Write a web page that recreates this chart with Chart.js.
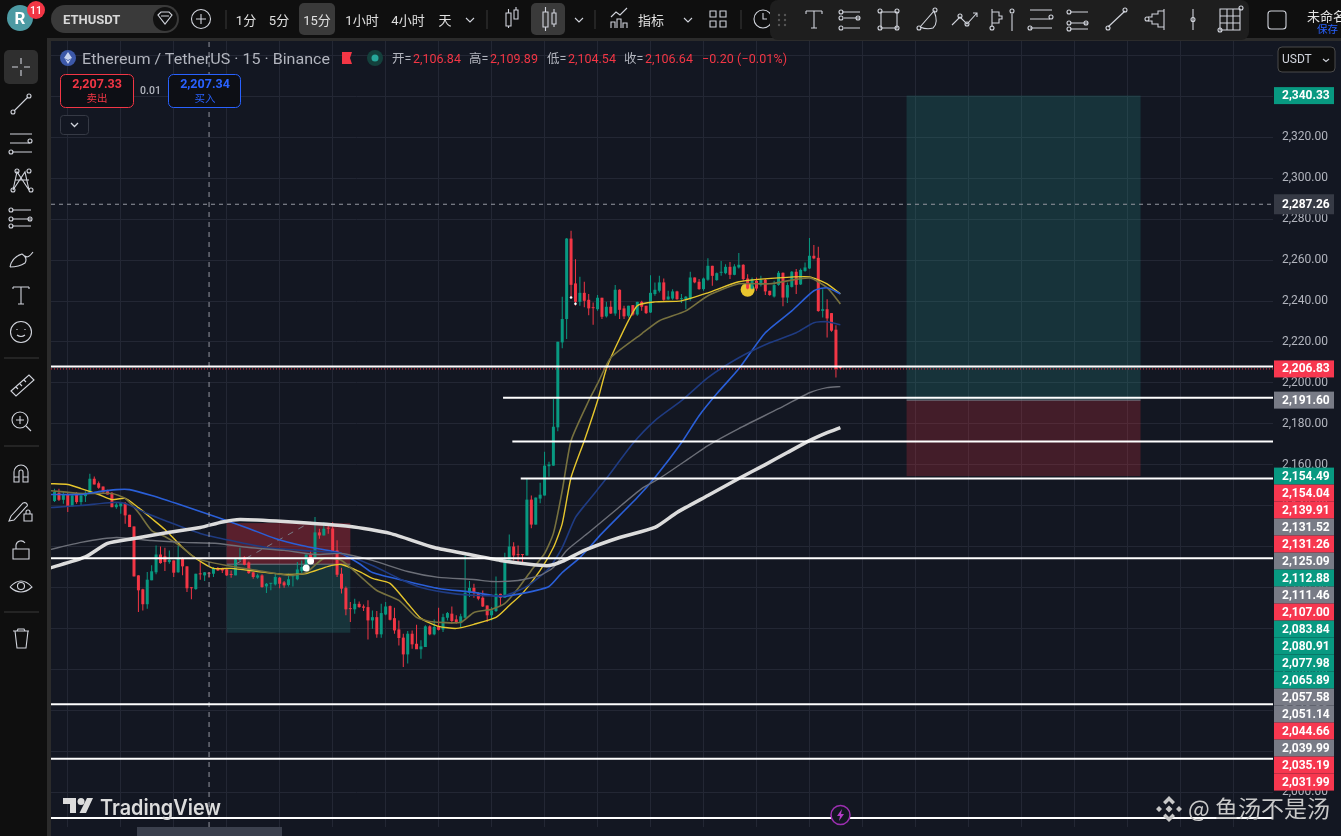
<!DOCTYPE html>
<html>
<head>
<meta charset="utf-8">
<title>ETHUSDT</title>
<script src="https://cdn.jsdelivr.net/npm/chart.js@4"></script>
<style>
  html, body { margin: 0; padding: 0; background: #131722; overflow: hidden; }
  #wrap { position: relative; width: 1341px; height: 836px; }
  #graph { position: absolute; left: 0; top: 0; }
  #chrome { position: absolute; left: 0; top: 0; pointer-events: none; font-family: Roboto, "Noto Sans CJK SC", sans-serif; }
  #chrome .ic { fill: none; stroke: #d1d4dc; stroke-width: 1.1; }
</style>
</head>
<body>
<div id="wrap">
<canvas id="graph" width="1341" height="836"></canvas>
<svg id="chrome" width="1341" height="836" viewBox="0 0 1341 836">
  <!-- top bar -->
  <rect x="0" y="0" width="1341" height="38" fill="#0f0f0f"/>
  <rect x="0" y="38" width="1341" height="3" fill="#2b2b2b"/>
  <rect x="0" y="38" width="47" height="798" fill="#0f0f0f"/>
  <rect x="47" y="38" width="4" height="798" fill="#2b2b2b"/>
  <circle cx="20" cy="18" r="13" fill="#4d9aa3"/>
  <text x="14.500" y="24" fill="#fff" font-size="17" font-weight="700">R</text>
  <circle cx="36" cy="10" r="9" fill="#f23645"/>
  <text x="36" y="14" fill="#fff" font-size="10.500" font-weight="500" text-anchor="middle">11</text>
  <rect x="51" y="5" width="128" height="28" rx="14" fill="#3a3a3a"/>
  <text x="63" y="24" fill="#d8d8d8" font-size="13" font-weight="700">ETHUSDT</text>
  <circle cx="165" cy="19" r="12" fill="#111"/>
  <path class="ic" d="M158 15 l3 -3 h8 l3 3 l-7 9 z M161 16 h8"/>
  <circle class="ic" cx="201" cy="19" r="9.500"/>
  <path class="ic" d="M201 14 v10 M196 19 h10"/>
  <path d="M226 10 v19 M487 10 v19 M595 10 v19 M741 10 v19" stroke="#3a3a3a"/>
  <rect x="299" y="3" width="36" height="32" rx="5" fill="#3a3a3a"/>
  <rect x="531" y="3" width="34" height="32" rx="5" fill="#3a3a3a"/>
  <g fill="#e0e0e0" font-size="13" text-anchor="middle">
    <text x="246" y="25">1分</text>
    <text x="279" y="25">5分</text>
    <text x="317" y="25">15分</text>
    <text x="362" y="25">1小时</text>
    <text x="408" y="25">4小时</text>
    <text x="445" y="25">天</text>
    <text x="651" y="25">指标</text>
  </g>
  <path class="ic" d="M466 18 l4 4 l4 -4 M575 18 l4 4 l4 -4 M684 18 l4 4 l4 -4"/>
  <path class="ic" d="M506 13 h5 v13 h-5 z M508.500 9 v4 M508.500 26 v2 M514 10 h4 v9 h-4 z M516 7 v3"/>
  <path class="ic" d="M543 12 h5 v15 h-5 z M545.500 7 v5 M545.500 27 v4 M552 13 h4 v11 h-4 z M554 9 v4 M554 24 v3"/>
  <path class="ic" d="M611 28 v-6 h4 v6 M617 28 v-9 h4 v9 M623 28 v-5 h4 v5 M611 17 l5 -5 l4 3 l7 -7"/>
  <path class="ic" d="M710 11 h6 v6 h-6 z M720 11 h6 v6 h-6 z M710 21 h6 v6 h-6 z M720 21 h6 v6 h-6 z"/>
  <circle class="ic" cx="763" cy="19" r="9"/>
  <path class="ic" d="M763 13 v6 h4"/>
  <!-- floating drawing bar -->
  <rect x="770" y="0" width="479" height="40" rx="8" fill="#1e1e1e"/>
  <g fill="#555"><circle cx="779" cy="15" r="1.200"/><circle cx="785" cy="15" r="1.200"/><circle cx="779" cy="20" r="1.200"/><circle cx="785" cy="20" r="1.200"/><circle cx="779" cy="25" r="1.200"/><circle cx="785" cy="25" r="1.200"/></g>
  <g class="ic">
    <path class="ic" d="M806 11 h16 M806 11 v3 M822 11 v3 M814 11 v17 M811 28 h6"/>
    <path class="ic" d="M842 12 h18 M844 18 h16 M844 28 h16"/><circle class="ic" cx="841" cy="12" r="2"/><circle class="ic" cx="841" cy="18" r="2"/><circle class="ic" cx="858" cy="18" r="2"/><circle class="ic" cx="841" cy="28" r="2"/>
    <path class="ic" d="M881 12 h16 v16 h-16 z"/><circle class="ic" cx="880" cy="11" r="2"/><circle class="ic" cx="897" cy="11" r="2"/><circle class="ic" cx="880" cy="28" r="2"/><circle class="ic" cx="897" cy="28" r="2"/>
    <path class="ic" d="M920 27 l14 -16 q5 12 -1 17 q-6 2 -13 -1"/><circle class="ic" cx="919" cy="28" r="2"/><circle class="ic" cx="935" cy="10" r="2"/>
    <path class="ic" d="M952 25 l8 -8 l7 7 l10 -11 M973 13 h4 v4"/><circle class="ic" cx="960" cy="16" r="2"/><circle class="ic" cx="967" cy="24" r="2"/>
    <path class="ic" d="M992 27 v-18 M992 12 h7 v4 h3 v3 h-3 v4 h-7 M1012 14 v17"/><circle class="ic" cx="992" cy="28" r="2"/><circle class="ic" cx="1012" cy="11" r="2"/>
    <path class="ic" d="M1030 10 h22 M1030 19 h20 M1030 28 h22"/><circle class="ic" cx="1051" cy="17" r="2"/><circle class="ic" cx="1030" cy="28" r="2"/>
    <path class="ic" d="M1070 12 h18 M1070 23 h18 M1070 29 h18"/><circle class="ic" cx="1069" cy="12" r="2"/><circle class="ic" cx="1069" cy="23" r="2"/><circle class="ic" cx="1086" cy="23" r="2"/><circle class="ic" cx="1069" cy="29" r="2"/>
    <path class="ic" d="M1108 27 l17 -16"/><circle class="ic" cx="1108" cy="28" r="2"/><circle class="ic" cx="1125" cy="10" r="2"/>
    <path class="ic" d="M1164 9 v21 M1164 11 h-6 v3 h-6 v3 h-4 M1164 27 h-6 v-3 h-6 v-3 h-4"/><circle class="ic" cx="1147" cy="19" r="2"/>
    <path class="ic" d="M1193 9 v21"/><circle class="ic" cx="1193" cy="19.500" r="2"/>
    <path class="ic" d="M1220 9 h20 v21 h-20 z M1227 9 v21 M1233 9 v21 M1220 16 h20 M1220 23 h20"/><circle class="ic" cx="1241" cy="8" r="2"/><circle class="ic" cx="1220" cy="30" r="2"/>
  </g>
  <rect class="ic" x="1268" y="11" width="18" height="18" rx="3"/>
  <text x="1307" y="21" fill="#e0e0e0" font-size="13">未命名</text>
  <text x="1317" y="33" fill="#2962ff" font-size="10.500">保存</text>

  <!-- left bar -->
  <rect x="4" y="50" width="34" height="34" rx="5" fill="#2f2f2f"/>
  <path class="ic" d="M21 58 v6 M21 70 v6 M12 67 h6 M24 67 h6"/>
  <path class="ic" d="M14 111 l14 -14"/><circle class="ic" cx="13" cy="112" r="2"/><circle class="ic" cx="29" cy="96" r="2"/>
  <path class="ic" d="M10 134 h22 M10 143 h20 M12 152 h20"/><circle class="ic" cx="30" cy="141" r="2"/><circle class="ic" cx="11" cy="152" r="2"/>
  <path class="ic" d="M13 190 l4 -18 l12 18 l-4 -18 l-12 18 M15 180 h14"/><circle class="ic" cx="13" cy="190" r="2"/><circle class="ic" cx="17" cy="171" r="2"/><circle class="ic" cx="29" cy="171" r="2"/><circle class="ic" cx="31" cy="190" r="2"/>
  <path class="ic" d="M12 210 h19 M12 219 h19 M12 226 h19"/><circle class="ic" cx="11" cy="210" r="2"/><circle class="ic" cx="11" cy="219" r="2"/><circle class="ic" cx="30" cy="219" r="2"/><circle class="ic" cx="11" cy="226" r="2"/>
  <path class="ic" d="M10 267 q2 -10 12 -13 q6 4 3 9 q-6 4 -15 4 M25 256 q3 3 8 -4"/>
  <path class="ic" d="M13 287 h16 M13 287 v2 M29 287 v2 M21 287 v17 M18 304 h6"/>
  <circle class="ic" cx="21" cy="332" r="10.500"/><path class="ic" d="M17 335 q4 3 8 0 M17 329 v1 M25 329 v1"/>
  <path d="M4 358 h35 M4 446 h35 M4 612 h35" stroke="#3a3a3a"/>
  <path class="ic" d="M11 391 l18 -16 l5 5 l-18 16 z M16 387 l2 2 M20 384 l2 2 M24 380 l2 2"/>
  <circle class="ic" cx="20" cy="420" r="8"/><path class="ic" d="M26 426 l5 5 M16 420 h8 M20 416 v8"/>
  <path class="ic" d="M14 482 v-10 a7 7 0 0 1 14 0 v10 h-5 v-10 a2 2 0 0 0 -4 0 v10 z M14 477 h5 M23 477 h5"/>
  <path class="ic" d="M11 516 l12 -13 q3 -1 4 1 q1 2 -1 3 l-12 13 l-5 1 z M24 514 h8 v7 h-8 z M26 514 v-2 a2 2 0 0 1 4 0 v2"/>
  <path class="ic" d="M13 549 h16 v10 h-16 z M16 549 v-4 a5 5 0 0 1 9 -2"/>
  <path class="ic" d="M10 587 q11 -12 22 0 q-11 10 -22 0"/><circle class="ic" cx="21" cy="586" r="3.500"/>
  <path class="ic" d="M13 631 h16 M17 631 l1 -2 h6 l1 2 M15 631 l2 17 h9 l2 -17"/>

  <!-- legend -->
  <circle cx="68" cy="58" r="8" fill="#3c58a8"/>
  <path d="M68 52 l-4 6 l4 2 l4 -2 z M68 61 l-3 -2 l3 5 l3 -5 z" fill="#c8d4f0"/>
  <text x="82" y="63.500" fill="#b2b5be" font-size="15" textLength="248" lengthAdjust="spacingAndGlyphs">Ethereum / TetherUS · 15 · Binance</text>
  <path d="M342 52 h10 l-2 6 l2 6 h-10 z" fill="#f23645"/>
  <circle cx="375" cy="58" r="8" fill="#14403c"/><circle cx="375" cy="58" r="3.500" fill="#26a69a"/>
  <g font-size="12.500">
    <text x="392" y="63" fill="#b2b5be">开=</text><text x="413" y="63" fill="#f23645">2,106.84</text>
    <text x="469" y="63" fill="#b2b5be">高=</text><text x="490" y="63" fill="#f23645">2,109.89</text>
    <text x="547" y="63" fill="#b2b5be">低=</text><text x="568" y="63" fill="#f23645">2,104.54</text>
    <text x="624" y="63" fill="#b2b5be">收=</text><text x="645" y="63" fill="#f23645">2,106.64</text>
    <text x="702" y="63" fill="#f23645" textLength="85">−0.20 (−0.01%)</text>
  </g>
  <rect x="60.500" y="74.500" width="73" height="33" rx="5" fill="#0d0f15" stroke="#f23645"/>
  <text x="97" y="88" fill="#f23645" font-size="12.500" font-weight="700" text-anchor="middle">2,207.33</text>
  <text x="97" y="102" fill="#f23645" font-size="10.500" text-anchor="middle">卖出</text>
  <text x="150.500" y="94" fill="#b2b5be" font-size="10.500" font-weight="500" text-anchor="middle">0.01</text>
  <rect x="168.500" y="74.500" width="72" height="33" rx="5" fill="#0d0f15" stroke="#2962ff"/>
  <text x="205" y="88" fill="#2962ff" font-size="12.500" font-weight="700" text-anchor="middle">2,207.34</text>
  <text x="205" y="102" fill="#2962ff" font-size="10.500" text-anchor="middle">买入</text>
  <rect x="60.500" y="115.500" width="28" height="19" rx="3" fill="#131722" stroke="#363a45"/>
  <path d="M71 123 l3.500 3.500 l3.500 -3.500" fill="none" stroke="#d1d4dc" stroke-width="1.300"/>

  <!-- unit button -->
  <rect x="1278" y="47" width="57" height="25" rx="4" fill="#0e0e0e" stroke="#4a4a4a"/>
  <text x="1282" y="63" fill="#d1d4dc" font-size="12">USDT</text>
  <path class="ic" d="M1323 59 l3 2.500 l3 -2.500"/>

  <!-- time axis strip -->
  <rect x="137" y="827" width="145" height="9" fill="#3b404d"/>

  <!-- watermarks -->
  <g fill="#dcdcdc">
    <path d="M63 798 h13 v15 h-6 v-9 h-7 z M87 798 h6 l-7 15 h-6.500 z"/>
    <circle cx="81" cy="801.500" r="3.500"/>
    <text x="100" y="815" font-family="Inter, Roboto" font-size="21" font-weight="600" textLength="121" lengthAdjust="spacingAndGlyphs">TradingView</text>
  </g>
  <circle cx="840.500" cy="815" r="9.500" fill="#131722" stroke="#9c2fb0" stroke-width="1.500"/>
  <path d="M842 809 l-5 7 h3 l-1 5 l5 -7 h-3 z" fill="#b43cc8"/>
  <g fill="#c8c8c8">
    <path d="M1169 796 l6 6 l-2.500 2.500 l-3.500 -3.500 l-3.500 3.500 l-2.500 -2.500 z M1169 822 l6 -6 l-2.500 -2.500 l-3.500 3.500 l-3.500 -3.500 l-2.500 2.500 z M1156 809 l3 -3 l3 3 l-3 3 z M1176 809 l3 -3 l3 3 l-3 3 z M1169 805.500 l3.500 3.500 l-3.500 3.500 l-3.500 -3.500 z"/>
    <text x="1188" y="817" font-size="23" font-family="'Noto Sans CJK SC', sans-serif">@ 鱼汤不是汤</text>
  </g>
</svg>
</div>

<script>
// price range of the pane and bar range (bar 12 sits on the first time grid line)
const priceMin = 1983.1;
const priceMax = 2367;
const barMin = 8.2;
const barMax = 285;
const firstBar = 9;

const yTickValues = [2000, 2020, 2040, 2060, 2080, 2100, 2120, 2140, 2160, 2180, 2200, 2220, 2240, 2260, 2280, 2300, 2320, 2340, 2360];
const xGridBars = [12, 24, 36, 48, 60, 72, 84, 96, 108, 120, 132, 144, 156, 168, 180, 192, 204, 216, 228, 240, 252, 264, 276];

// candles
const opens = [
  2142.3, 2146.3, 2142.9, 2145.5, 2139.7, 2145.5, 2141.8, 2144.7, 2146.3, 2153.2, 2151.0, 2149.4, 2147.1, 2146.2, 2139.3, 2139.7, 2141.3, 2135.6, 2129.9, 2106.0, 2099.2, 2091.9, 2103.6, 2107.5, 2116.2, 2115.3, 2112.5, 2113.3, 2107.5, 2114.0, 2110.4, 2100.0, 2099.3, 2106.8, 2106.0, 2107.3, 2106.8, 2109.3, 2109.3, 2108.9, 2106.5, 2106.0, 2113.6, 2114.9, 2112.3, 2107.5, 2104.9, 2106.0, 2100.6, 2101.9, 2101.6, 2104.9, 2102.6, 2101.3, 2105.5, 2104.1, 2108.1, 2109.3, 2116.2, 2114.9, 2127.0, 2125.5, 2129.1, 2128.9, 2118.2, 2106.8, 2099.8,
  2090.0, 2089.4, 2092.1, 2090.8, 2090.5, 2084.0, 2085.6, 2077.2, 2086.9, 2091.0, 2085.1, 2079.6, 2075.6, 2067.4, 2077.5, 2072.6, 2069.9, 2071.0, 2081.1, 2077.2, 2081.1, 2079.6, 2085.3, 2087.3, 2084.5, 2082.7, 2085.3, 2097.5, 2099.9, 2097.3, 2095.1, 2091.3, 2086.5, 2088.6, 2097.0, 2095.1, 2113.6, 2120.1, 2116.2, 2116.2,
  2115.7, 2143.0, 2130.8, 2143.5, 2145.0, 2159.3, 2159.6, 2178.3, 2219.8, 2231.2, 2270.5, 2248.6, 2239.6, 2244.0, 2240.6, 2236.9, 2236.0, 2241.6, 2232.5, 2237.2, 2233.9, 2245.5, 2236.4, 2232.8, 2238.0, 2233.4, 2239.6, 2237.7, 2234.4, 2243.4, 2245.0, 2249.1, 2240.8, 2241.2, 2244.7, 2240.9, 2240.9, 2240.9, 2251.5, 2249.4, 2245.8, 2250.4, 2257.2, 2250.2, 2253.8, 2253.6, 2256.7, 2252.8, 2256.4, 2257.7, 2251.0, 2246.1, 2249.9, 2247.8, 2250.4, 2245.0, 2242.2, 2247.9, 2253.8, 2241.7, 2246.9, 2254.3, 2248.1, 2254.7, 2255.9, 2262.1, 2261.1, 2235.2, 2236.0, 2234.1, 2226.0, 2207.6,
];
const highs = [
  2148.3, 2148.3, 2147.1, 2146.7, 2145.8, 2146.7, 2146.3, 2147.1, 2155.6, 2154.3, 2151.9, 2149.4, 2147.8, 2146.7, 2141.8, 2141.8, 2141.8, 2135.6, 2129.9, 2106.0, 2099.5, 2107.6, 2110.9, 2120.6, 2120.1, 2119.5, 2118.2, 2113.3, 2120.6, 2114.9, 2110.4, 2100.3, 2106.8, 2112.5, 2107.6, 2107.6, 2110.1, 2110.1, 2109.7, 2109.3, 2108.4, 2114.1, 2119.5, 2115.3, 2112.8, 2107.6, 2106.8, 2106.5, 2102.3, 2102.3, 2106.8, 2105.2, 2103.2, 2106.8, 2106.0, 2112.5, 2113.3, 2116.2, 2118.2, 2134.5, 2128.8, 2132.0, 2130.4, 2132.0, 2123.1, 2109.7, 2100.6,
  2093.0, 2094.6, 2093.3, 2091.8, 2093.8, 2088.9, 2088.6, 2092.1, 2093.0, 2091.3, 2090.2, 2084.0, 2077.5, 2078.8, 2079.1, 2081.9, 2074.3, 2081.6, 2081.6, 2084.5, 2090.2, 2087.3, 2088.1, 2090.8, 2086.5, 2087.3, 2115.7, 2103.2, 2101.9, 2097.8, 2098.6, 2091.3, 2090.5, 2105.5, 2097.0, 2117.0, 2126.0, 2122.2, 2120.6, 2116.5,
  2153.4, 2145.0, 2144.0, 2151.3, 2166.4, 2161.5, 2192.1, 2220.1, 2242.1, 2270.8, 2274.3, 2260.4, 2251.8, 2249.4, 2243.4, 2239.3, 2242.9, 2241.6, 2239.6, 2240.1, 2247.8, 2245.8, 2237.7, 2237.7, 2238.0, 2239.6, 2240.1, 2237.7, 2252.6, 2249.1, 2252.3, 2251.0, 2245.0, 2245.8, 2245.0, 2243.4, 2242.5, 2254.3, 2251.5, 2250.7, 2251.5, 2260.9, 2257.2, 2253.9, 2259.6, 2258.0, 2259.1, 2258.0, 2263.4, 2258.0, 2253.1, 2251.5, 2251.5, 2252.3, 2250.7, 2245.0, 2249.9, 2254.7, 2253.9, 2249.1, 2254.7, 2255.6, 2255.9, 2258.8, 2270.8, 2267.4, 2266.5, 2245.8, 2240.9, 2234.1, 2228.2, 2207.9,
];
const lows = [
  2141.8, 2142.3, 2141.0, 2136.9, 2139.7, 2141.0, 2140.1, 2141.8, 2145.8, 2150.4, 2148.3, 2145.8, 2145.5, 2139.3, 2138.5, 2136.1, 2131.2, 2129.6, 2105.5, 2088.1, 2088.9, 2089.7, 2103.6, 2106.5, 2111.7, 2108.1, 2111.7, 2105.2, 2107.3, 2106.0, 2097.9, 2094.3, 2099.0, 2103.9, 2103.2, 2104.9, 2105.2, 2108.1, 2107.1, 2105.7, 2104.9, 2106.0, 2113.0, 2110.9, 2106.8, 2104.4, 2104.4, 2100.0, 2097.4, 2098.7, 2101.1, 2099.7, 2100.0, 2100.6, 2100.6, 2103.6, 2107.1, 2108.4, 2113.3, 2114.9, 2123.9, 2125.5, 2126.3, 2117.4, 2105.2, 2097.1, 2086.5,
  2083.2, 2087.3, 2090.2, 2088.6, 2074.7, 2079.9, 2075.5, 2075.5, 2086.5, 2084.0, 2077.5, 2071.8, 2061.2, 2062.9, 2070.2, 2070.2, 2065.3, 2071.0, 2076.7, 2076.7, 2079.1, 2078.3, 2084.0, 2082.4, 2082.4, 2080.8, 2084.8, 2095.4, 2095.1, 2093.8, 2090.5, 2083.2, 2084.0, 2088.1, 2091.3, 2095.1, 2113.3, 2113.3, 2112.5, 2111.3,
  2115.7, 2129.0, 2130.8, 2141.2, 2145.0, 2154.2, 2159.6, 2176.4, 2216.9, 2221.4, 2241.7, 2237.7, 2237.7, 2236.9, 2233.1, 2228.4, 2235.2, 2231.2, 2232.0, 2233.6, 2232.8, 2231.2, 2231.2, 2232.0, 2232.8, 2232.8, 2235.2, 2233.6, 2234.1, 2242.6, 2244.2, 2240.1, 2240.6, 2240.6, 2240.6, 2239.0, 2236.0, 2240.1, 2248.7, 2245.5, 2245.0, 2249.9, 2247.4, 2249.9, 2252.3, 2253.1, 2250.7, 2252.6, 2255.9, 2249.9, 2245.8, 2245.8, 2245.0, 2247.1, 2242.9, 2242.6, 2241.7, 2247.4, 2237.4, 2239.0, 2246.6, 2243.4, 2247.8, 2254.3, 2255.6, 2260.4, 2234.7, 2232.0, 2222.2, 2225.0, 2202.7, 2206.8,
];
const closes = [
  2146.7, 2142.9, 2145.5, 2139.7, 2145.0, 2141.8, 2145.0, 2146.3, 2153.2, 2150.4, 2148.8, 2146.7, 2145.5, 2139.3, 2140.6, 2141.3, 2135.3, 2129.6, 2105.5, 2098.7, 2091.9, 2103.9, 2108.0, 2116.2, 2112.0, 2112.5, 2113.6, 2107.3, 2114.0, 2110.4, 2099.7, 2099.7, 2106.8, 2106.5, 2107.5, 2106.8, 2109.6, 2108.4, 2108.4, 2106.0, 2106.2, 2113.8, 2114.1, 2111.2, 2107.1, 2105.2, 2106.0, 2100.3, 2101.9, 2102.3, 2105.2, 2101.9, 2101.1, 2104.1, 2106.0, 2108.9, 2110.1, 2116.2, 2114.1, 2127.0, 2125.5, 2128.8, 2128.8, 2117.4, 2106.3, 2099.5, 2089.4,
  2089.5, 2092.1, 2090.5, 2090.2, 2084.0, 2085.6, 2077.2, 2087.6, 2090.8, 2084.3, 2079.1, 2075.4, 2067.4, 2077.5, 2072.3, 2069.9, 2071.3, 2081.1, 2077.2, 2080.8, 2079.4, 2085.6, 2087.6, 2083.7, 2082.7, 2086.0, 2097.5, 2099.9, 2097.3, 2094.6, 2090.8, 2086.5, 2088.9, 2097.0, 2095.1, 2113.6, 2120.1, 2115.7, 2115.9, 2115.9,
  2143.0, 2130.8, 2144.0, 2145.4, 2159.6, 2160.2, 2178.6, 2220.1, 2231.2, 2270.5, 2247.9, 2239.6, 2244.0, 2240.1, 2236.4, 2236.5, 2241.6, 2232.3, 2237.2, 2233.9, 2245.5, 2235.7, 2232.5, 2237.7, 2233.4, 2239.6, 2237.2, 2234.1, 2244.0, 2245.5, 2249.1, 2240.6, 2242.2, 2244.7, 2240.9, 2241.2, 2242.1, 2251.5, 2249.1, 2245.8, 2251.0, 2257.2, 2252.3, 2253.6, 2254.1, 2256.7, 2252.8, 2256.9, 2257.7, 2250.7, 2246.1, 2250.7, 2246.1, 2250.4, 2244.7, 2242.9, 2247.8, 2253.8, 2241.7, 2247.8, 2254.3, 2247.9, 2255.2, 2256.4, 2262.1, 2260.8, 2235.1, 2236.0, 2231.5, 2225.5, 2206.8, 2207.2,
];

// moving averages, sampled along each curve: bar numbers and values
const yellowBars = [8, 12, 15, 19, 22, 25, 28, 31, 34, 38, 41, 45, 49, 55, 61, 66, 71, 74, 78, 81, 85, 89, 92, 96, 100, 104, 109, 112, 115, 119, 122, 124, 126, 129, 132, 134, 137, 141, 145, 151, 157, 164, 173, 180, 184, 187];
const yellowValues = [2150.8, 2150.4, 2148.4, 2145.5, 2143.0, 2143.6, 2139.1, 2133.8, 2128.4, 2119.6, 2114.3, 2109.4, 2109.4, 2107.9, 2106.5, 2106.9, 2110.4, 2111.3, 2107.9, 2104.5, 2102.1, 2092.3, 2085.0, 2081.1, 2080.1, 2082.1, 2085.5, 2091.3, 2097.2, 2108.4, 2119.6, 2131.3, 2153.8, 2171.8, 2191.3, 2206.9, 2221.6, 2237.7, 2239.6, 2240.1, 2244.0, 2249.4, 2251.3, 2251.8, 2248.4, 2243.5];
const oliveBars = [8, 15, 22, 25, 28, 31, 34, 38, 41, 48, 55, 62, 66, 70, 74, 78, 82, 87, 91, 94, 101, 104, 108, 111, 114, 117, 120, 122, 124, 126, 130, 132, 135, 142, 146, 152, 157, 164, 171, 180, 184, 187];
const oliveValues = [2147.4, 2146.0, 2146.0, 2143.6, 2136.7, 2127.9, 2125.0, 2119.6, 2114.3, 2110.8, 2108.4, 2106.0, 2107.4, 2114.3, 2113.3, 2106.0, 2098.6, 2093.8, 2085.5, 2083.5, 2083.0, 2087.9, 2089.4, 2092.3, 2099.6, 2108.4, 2116.7, 2126.5, 2147.4, 2171.8, 2191.3, 2199.6, 2212.3, 2224.0, 2230.4, 2235.2, 2242.6, 2248.4, 2248.4, 2251.3, 2246.5, 2238.6];
const blueBars = [8, 15, 19, 23, 26, 31, 38, 46, 53, 59, 65, 72, 74, 78, 81, 89, 96, 104, 110, 115, 121, 124, 128, 133, 141, 145, 151, 155, 159, 164, 170, 176, 181, 184, 187];
const blueValues = [2145.5, 2145.5, 2146.9, 2147.9, 2147.9, 2145.0, 2140.1, 2134.3, 2128.9, 2124.0, 2120.6, 2117.7, 2116.7, 2111.8, 2107.4, 2103.0, 2099.6, 2097.7, 2095.7, 2097.2, 2100.6, 2107.4, 2114.7, 2126.5, 2144.0, 2153.8, 2170.8, 2184.0, 2194.7, 2206.9, 2224.5, 2235.2, 2245.0, 2246.5, 2243.5];
const navyBars = [8, 15, 22, 25, 30, 34, 42, 49, 57, 65, 74, 81, 88, 92, 99, 105, 111, 116, 121, 124, 127, 130, 134, 140, 145, 151, 157, 164, 171, 177, 181, 184, 187];
const navyValues = [2139.1, 2140.1, 2141.6, 2141.1, 2136.2, 2132.8, 2126.5, 2123.0, 2119.6, 2118.2, 2116.7, 2110.8, 2103.5, 2100.1, 2097.2, 2096.2, 2096.2, 2100.6, 2109.4, 2119.6, 2134.3, 2142.6, 2153.3, 2170.4, 2181.6, 2191.3, 2202.6, 2212.3, 2219.6, 2224.5, 2229.4, 2229.9, 2228.4];
const greyBars = [8, 15, 23, 31, 38, 46, 53, 61, 68, 74, 81, 89, 96, 104, 108, 114, 119, 122, 125, 130, 136, 142, 146, 153, 157, 164, 173, 180, 184, 187];
const greyValues = [2118.6, 2122.1, 2124.5, 2123.0, 2122.1, 2121.6, 2119.6, 2118.2, 2116.2, 2116.7, 2113.3, 2107.9, 2105.0, 2104.0, 2103.0, 2103.5, 2106.0, 2109.9, 2118.2, 2126.9, 2137.7, 2148.4, 2153.3, 2163.5, 2169.4, 2177.7, 2187.4, 2195.2, 2197.7, 2198.2];
const silverBars = [8, 16, 21, 27, 34, 42, 47, 51, 61, 76, 85, 95, 103, 110, 117, 121, 124, 129, 137, 145, 150, 157, 164, 170, 175, 180, 184, 187];
const silverValues = [2109.6, 2115.0, 2121.6, 2124.0, 2126.7, 2129.4, 2132.1, 2133.3, 2132.3, 2129.9, 2126.5, 2119.6, 2116.2, 2113.3, 2111.3, 2110.8, 2112.8, 2118.2, 2124.5, 2129.4, 2136.7, 2145.0, 2153.3, 2160.1, 2166.0, 2171.8, 2175.7, 2178.2];

// white horizontal levels: price and the bar they start from
const levelPrices = [2208, 2192.8, 2171.4, 2153.3, 2114.4, 2043.1, 2016.4, 1987.5];
const levelStarts = [barMin, 110.6, 112.7, 114.6, barMin, barMin, barMin, barMin];
const lastPrice = 2206.83;
const crossBar = 44;
const crossPrice = 2287.26;

// long / short position boxes: top, entry, bottom
const bigBoxBars = [202, 255];
const bigBoxPrices = [2340.33, 2191.6, 2154.49];
const smallBoxBars = [48, 76];
const smallBoxPrices = [2131.52, 2111.46, 2077.98];
const tradeLineBars = [50, 67];
const tradeLinePrices = [2111.46, 2132];

// marks on the candles
const handBars = [66, 67];
const handPrices = [2109.6, 2113];
const dotBars = [126, 127];
const dotPrices = [2241.7, 2238.7];
const alertBars = [166];
const alertPrices = [2245.5];

// tags on the price axis, top to bottom
const tagPrices = [2340.33, 2287.26, 2206.83, 2191.60, 2154.49, 2154.04, 2139.91, 2131.52, 2131.26, 2125.09, 2112.88, 2111.46, 2107.00, 2083.84, 2080.91, 2077.98, 2065.89, 2057.58, 2051.14, 2044.66, 2039.99, 2035.19, 2031.99];
const tagKinds = ["up", "cross", "down", "flat", "up", "down", "down", "flat", "down", "flat", "up", "flat", "down", "up", "up", "up", "up", "flat", "flat", "down", "flat", "down", "down"];

const upColor = "#089981";
const downColor = "#f23645";
const tagColors = { up: "#089981", down: "#f7374f", flat: "#787b86", cross: "#363a45" };
const zoneGreen = "rgba(38,166,154,0.2)";
const zoneRed = "rgba(242,54,69,0.22)";
const zoneRedStrong = "rgba(242,54,69,0.32)";

function fmt(v) {
  return v.toLocaleString("en-US", { minimumFractionDigits: 2, maximumFractionDigits: 2 });
}

function pts(bars, values) {
  return bars.map((b, n) => ({ x: b, y: values[n] }));
}

function maLine(label, bars, values, color, width, order) {
  return {
    type: "line",
    label: label,
    data: pts(bars, values),
    borderColor: color,
    borderWidth: width,
    pointRadius: 0,
    tension: 0.2,
    order: order,
  };
}

function flatLine(label, x0, x1, price, color, width, dash, order) {
  return {
    type: "line",
    label: label,
    data: [{ x: x0, y: price }, { x: x1, y: price }],
    borderColor: color,
    borderWidth: width,
    borderDash: dash,
    pointRadius: 0,
    order: order,
  };
}

const bodies = opens.map((o, n) => ({ x: firstBar + n, y: [o, closes[n]] }));
const wicks = opens.map((o, n) => ({ x: firstBar + n, y: [lows[n], highs[n]] }));
const barColors = opens.map((o, n) => (closes[n] >= o ? upColor : downColor));

// position boxes under the candles
const boxPlugin = {
  id: "boxes",
  beforeDatasetsDraw(chart) {
    const { ctx, scales, chartArea } = chart;
    const x = scales.x;
    const y = scales.y;
    function box(bars, prices, upperColor, lowerColor) {
      const l = x.getPixelForValue(bars[0]);
      const r = x.getPixelForValue(bars[1]);
      const top = y.getPixelForValue(prices[0]);
      const mid = y.getPixelForValue(prices[1]);
      const bot = y.getPixelForValue(prices[2]);
      ctx.fillStyle = upperColor;
      ctx.fillRect(l, top, r - l, mid - top);
      ctx.fillStyle = lowerColor;
      ctx.fillRect(l, mid, r - l, bot - mid);
      ctx.fillStyle = "#787b86";
      ctx.fillRect(l, mid - 0.5, r - l, 1);
    }
    ctx.save();
    ctx.beginPath();
    ctx.rect(chartArea.left, chartArea.top, chartArea.width, chartArea.height);
    ctx.clip();
    box(bigBoxBars, bigBoxPrices, zoneGreen, zoneRed);
    box(smallBoxBars, smallBoxPrices, zoneRedStrong, zoneGreen);
    ctx.restore();
  },
};

// price tags pile up on the axis, each pushed below the one above it
const tagPlugin = {
  id: "tags",
  afterDraw(chart) {
    const { ctx, scales } = chart;
    const y = scales.y;
    const h = 17;
    let bottom = -100;
    ctx.save();
    ctx.font = "700 12px Roboto";
    ctx.textBaseline = "middle";
    tagPrices.forEach((p, n) => {
      const cy = Math.max(y.getPixelForValue(p), bottom + h / 2);
      const kind = tagKinds[n];
      const hh = kind === "cross" ? 20 : h;
      ctx.fillStyle = tagColors[kind];
      ctx.fillRect(1274, cy - hh / 2, 60, hh);
      ctx.fillStyle = "#fff";
      ctx.fillText(fmt(p), 1282, cy + 0.5);
      bottom = cy + h / 2;
    });
    ctx.restore();
  },
};

const graph = document.getElementById("graph");

new Chart(graph, {
  type: "bar",
  data: {
    datasets: [
      flatLine("level", levelStarts[0], barMax, levelPrices[0], "#ffffff", 2, [], 1),
      flatLine("level", levelStarts[1], barMax, levelPrices[1], "#ffffff", 2, [], 1),
      flatLine("level", levelStarts[2], barMax, levelPrices[2], "#ffffff", 2, [], 1),
      flatLine("level", levelStarts[3], barMax, levelPrices[3], "#ffffff", 2, [], 1),
      flatLine("level", levelStarts[4], barMax, levelPrices[4], "#ffffff", 2, [], 1),
      flatLine("level", levelStarts[5], barMax, levelPrices[5], "#ffffff", 2, [], 1),
      flatLine("level", levelStarts[6], barMax, levelPrices[6], "#ffffff", 2, [], 1),
      flatLine("level", levelStarts[7], barMax, levelPrices[7], "#ffffff", 2, [], 1),
      flatLine("last", barMin, barMax, lastPrice, "#f23645", 1, [1, 2], 1),
      flatLine("cross", barMin, barMax, crossPrice, "#9598a1", 1, [4, 4], 1),
      {
        type: "line",
        label: "crossV",
        data: [{ x: crossBar, y: priceMin }, { x: crossBar, y: priceMax }],
        borderColor: "#9598a1",
        borderWidth: 1,
        borderDash: [5, 5],
        pointRadius: 0,
        order: 1,
      },
      {
        type: "line",
        label: "hand",
        data: pts(handBars, handPrices),
        showLine: false,
        pointRadius: 3.5,
        pointBackgroundColor: "#fff",
        pointBorderWidth: 0,
        order: 2,
      },
      {
        type: "line",
        label: "dots",
        data: pts(dotBars, dotPrices),
        showLine: false,
        pointRadius: 1.3,
        pointBackgroundColor: "#fff",
        pointBorderWidth: 0,
        order: 2,
      },
      maLine("silver", silverBars, silverValues, "#dcdcdc", 3.5, 3),
      maLine("grey", greyBars, greyValues, "#6c6f78", 1.4, 3),
      maLine("navy", navyBars, navyValues, "#1f3b82", 1.6, 3),
      maLine("blue", blueBars, blueValues, "#2a5fd8", 1.6, 3),
      maLine("olive", oliveBars, oliveValues, "#77713f", 1.6, 3),
      maLine("yellow", yellowBars, yellowValues, "#e6c62d", 1.4, 3),
      {
        type: "line",
        label: "trade",
        data: pts(tradeLineBars, tradeLinePrices),
        borderColor: "#787b86",
        borderWidth: 1,
        borderDash: [6, 6],
        pointRadius: 0,
        order: 4,
      },
      {
        label: "bodies",
        data: bodies,
        backgroundColor: barColors,
        barThickness: 3,
        minBarLength: 1,
        grouped: false,
        inflateAmount: 0,
        order: 5,
      },
      {
        label: "wicks",
        data: wicks,
        backgroundColor: barColors,
        barThickness: 1,
        grouped: false,
        inflateAmount: 0,
        order: 6,
      },
      {
        type: "line",
        label: "alert",
        data: pts(alertBars, alertPrices),
        showLine: false,
        pointRadius: 7,
        pointBackgroundColor: "#e8c52e",
        pointBorderWidth: 0,
        order: 7,
      },
    ],
  },
  options: {
    responsive: false,
    animation: false,
    devicePixelRatio: 1,
    layout: { padding: { left: 51, top: 41, right: 0, bottom: 9 } },
    plugins: { legend: { display: false }, tooltip: { enabled: false } },
    scales: {
      x: {
        type: "linear",
        min: barMin,
        max: barMax,
        offset: false,
        grid: { color: "#232734", offset: false, drawTicks: false },
        border: { display: false },
        ticks: { display: false, autoSkip: false },
        afterBuildTicks(scale) {
          scale.ticks = xGridBars.map((v) => ({ value: v }));
        },
      },
      y: {
        position: "right",
        min: priceMin,
        max: priceMax,
        beginAtZero: false,
        grid: { color: "#232734", drawTicks: false },
        border: { display: false },
        ticks: {
          color: "#b2b5be",
          font: { family: "Roboto", size: 12 },
          padding: 9,
          autoSkip: false,
          callback: (v) => fmt(v),
        },
        afterBuildTicks(scale) {
          scale.ticks = yTickValues.map((v) => ({ value: v }));
        },
        afterFit(scale) {
          scale.width = 68;
          // no room kept for half a tick label at the ends of the axis
          scale.paddingTop = 0;
          scale.paddingBottom = 0;
        },
      },
    },
  },
  plugins: [boxPlugin, tagPlugin],
});
</script>
</body>
</html>
